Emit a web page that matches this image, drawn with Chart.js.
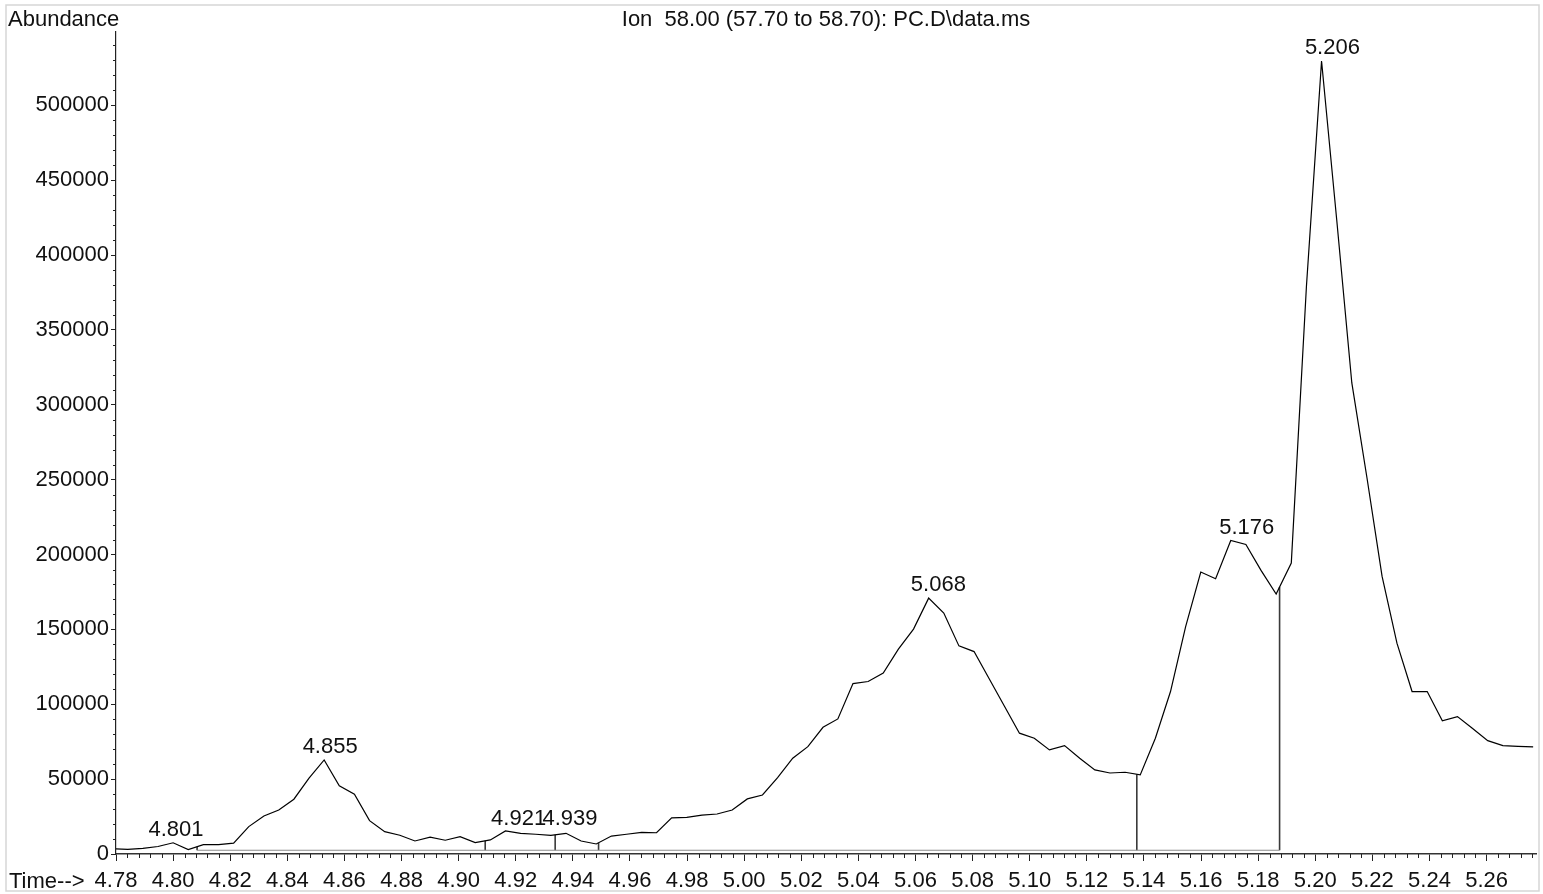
<!DOCTYPE html>
<html>
<head>
<meta charset="utf-8">
<script src="https://cdn.jsdelivr.net/npm/chart.js@4.4.1/dist/chart.umd.min.js"></script>
<style>
html, body { margin: 0; padding: 0; background: #fff; }
canvas { display: block; }
</style>
</head>
<body>
<canvas id="tic" width="1543" height="894"></canvas>
<script>
// retention time (min) of each scan
const times = [
    4.7788, 4.7841, 4.7894, 4.7947, 4.8000, 4.8053, 4.8106, 4.8159, 4.8212, 4.8265,
    4.8318, 4.8370, 4.8423, 4.8476, 4.8529, 4.8582, 4.8635, 4.8688, 4.8741, 4.8794,
    4.8847, 4.8900, 4.8953, 4.9005, 4.9058, 4.9111, 4.9164, 4.9217, 4.9270, 4.9323,
    4.9376, 4.9429, 4.9482, 4.9535, 4.9588, 4.9641, 4.9693, 4.9746, 4.9799, 4.9852,
    4.9905, 4.9958, 5.0011, 5.0064, 5.0117, 5.0170, 5.0223, 5.0276, 5.0328, 5.0381,
    5.0434, 5.0487, 5.0540, 5.0593, 5.0646, 5.0699, 5.0752, 5.0805, 5.0858, 5.0911,
    5.0964, 5.1016, 5.1069, 5.1122, 5.1175, 5.1228, 5.1281, 5.1334, 5.1387, 5.1440,
    5.1493, 5.1546, 5.1599, 5.1651, 5.1704, 5.1757, 5.1810, 5.1863, 5.1916, 5.1969,
    5.2022, 5.2075, 5.2128, 5.2181, 5.2234, 5.2286, 5.2339, 5.2392, 5.2445, 5.2498,
    5.2551, 5.2604, 5.2657, 5.2710, 5.2763
];

// ion 58 abundance at each scan
const abundance = [
    3500, 3100, 3800, 5000, 7500, 2900, 6200, 6300, 7200, 18300,
    25400, 29400, 36600, 50600, 62800, 45500, 39900, 22300, 14900, 12500,
    8700, 11200, 9200, 11600, 7600, 9400, 15400, 13800, 13200, 12400,
    13800, 8700, 6700, 12000, 13200, 14500, 14200, 24100, 24400, 25900,
    26700, 29400, 36800, 39400, 51000, 64000, 71700, 84600, 90200, 113800,
    115200, 120800, 136800, 150200, 170900, 160900, 139000, 135200, 117000, 98900,
    80700, 77300, 69500, 72400, 64000, 56200, 54100, 54600, 52800, 77300,
    108500, 151900, 188300, 183800, 209400, 206700, 189400, 173600, 194300, 379000,
    529600, 423800, 314600, 251300, 185400, 140800, 108500, 108500, 88900, 91800,
    83800, 75700, 72400, 71900, 71500
];

// integrated peaks: label and apex height
const peakTimes = [4.801, 4.855, 4.921, 4.939, 5.068, 5.176, 5.206];
const peakTops = [7500, 62800, 14500, 14500, 170900, 209400, 529600];

// integration baseline and peak boundaries
const boundaryTimes = [4.8084, 4.9093, 4.9338, 4.9490, 5.1375, 5.1875];
const baselineLevel = 2500;

const xTicks = [4.78, 4.80, 4.82, 4.84, 4.86, 4.88, 4.90, 4.92, 4.94, 4.96, 4.98, 5.00,
    5.02, 5.04, 5.06, 5.08, 5.10, 5.12, 5.14, 5.16, 5.18, 5.20, 5.22, 5.24, 5.26];
const yTicks = [0, 50000, 100000, 150000, 200000, 250000, 300000, 350000, 400000, 450000, 500000];
const xMin = 4.78, xMax = 5.2773;
const yMax = 549000;
const xMinorStep = 0.004, yMinorStep = 10000;

const FONT = "'Liberation Sans', Arial, sans-serif";
const FSIZE = 22;

function curveAt(t) {
    for (let i = 1; i < times.length; i++) {
        if (t <= times[i]) {
            let f = (t - times[i - 1]) / (times[i] - times[i - 1]);
            return abundance[i - 1] + f * (abundance[i] - abundance[i - 1]);
        }
    }
    return abundance[abundance.length - 1];
}

const baselinePts = [
    { x: boundaryTimes[0], y: baselineLevel },
    { x: boundaryTimes[boundaryTimes.length - 1], y: baselineLevel }
];
const markerPts = [];
boundaryTimes.forEach(t => {
    markerPts.push({ x: t, y: baselineLevel });
    markerPts.push({ x: t, y: curveAt(t) });
    markerPts.push({ x: t, y: null });
});

const chromPlugin = {
    id: 'chromPlugin',
    beforeDraw(chart) {
        const ctx = chart.ctx;
        ctx.save();
        ctx.fillStyle = '#fff';
        ctx.fillRect(0, 0, chart.width, chart.height);
        ctx.strokeStyle = '#d6d6d6';
        ctx.lineWidth = 1.5;
        ctx.strokeRect(6, 5, 1533, 886);
        ctx.restore();
    },
    afterDatasetsDraw(chart) {
        const { ctx, scales: { x, y } } = chart;
        ctx.save();
        ctx.font = FSIZE + 'px ' + FONT;
        ctx.fillStyle = '#111';
        ctx.textAlign = 'center';
        ctx.textBaseline = 'middle';
        peakTimes.forEach((t, i) => {
            ctx.fillText(t.toFixed(3), x.getPixelForValue(t), y.getPixelForValue(peakTops[i]) - 13);
        });
        ctx.restore();
    },
    afterDraw(chart) {
        const { ctx, scales: { x, y }, chartArea } = chart;
        ctx.save();
        ctx.strokeStyle = '#222';
        ctx.lineWidth = 1;
        ctx.beginPath();
        xTicks.forEach(v => {
            for (let j = 1; j < 5; j++) {
                let m = v + j * xMinorStep;
                if (m > x.max) break;
                let px = Math.round(x.getPixelForValue(m)) + 0.5;
                ctx.moveTo(px, chartArea.bottom);
                ctx.lineTo(px, chartArea.bottom + 4);
            }
        });
        for (let v = yMinorStep; v < y.max; v += yMinorStep) {
            if (v % 50000 === 0) continue;
            let py = Math.round(y.getPixelForValue(v)) + 0.5;
            ctx.moveTo(chartArea.left, py);
            ctx.lineTo(chartArea.left - 3, py);
        }
        ctx.stroke();

        ctx.font = FSIZE + 'px ' + FONT;
        ctx.fillStyle = '#111';
        ctx.textBaseline = 'alphabetic';
        ctx.textAlign = 'left';
        ctx.fillText('Abundance', 8, 26);
        ctx.fillText('Time-->', 9, 888);
        ctx.textAlign = 'center';
        ctx.fillText('Ion  58.00 (57.70 to 58.70): PC.D\\data.ms', (chartArea.left + chartArea.right) / 2, 26);
        ctx.restore();
    }
};

new Chart(document.getElementById('tic'), {
    type: 'line',
    data: {
        datasets: [
            {
                data: times.map((t, i) => ({ x: t, y: abundance[i] })),
                borderColor: '#000',
                borderWidth: 1.2,
                pointRadius: 0,
                tension: 0
            },
            {
                data: baselinePts,
                borderColor: '#8c8c8c',
                borderWidth: 1.2,
                pointRadius: 0
            },
            {
                data: markerPts,
                borderColor: '#3a3a3a',
                borderWidth: 1.6,
                pointRadius: 0,
                spanGaps: false
            }
        ]
    },
    options: {
        responsive: false,
        animation: false,
        events: [],
        layout: { padding: { left: 0, right: 7, top: 32, bottom: 0 } },
        plugins: {
            legend: { display: false },
            tooltip: { enabled: false }
        },
        scales: {
            x: {
                type: 'linear',
                min: xMin,
                max: xMax,
                afterBuildTicks: s => { s.ticks = xTicks.map(v => ({ value: v })); },
                afterFit: s => { s.height = 40; },
                grid: { drawOnChartArea: false, tickLength: 7, tickColor: '#222', color: '#222' },
                border: { color: '#333', width: 1.5 },
                ticks: {
                    font: { family: FONT, size: FSIZE },
                    color: '#111',
                    padding: 7,
                    maxRotation: 0,
                    autoSkip: false,
                    callback: v => v.toFixed(2)
                }
            },
            y: {
                min: 0,
                max: yMax,
                afterBuildTicks: s => { s.ticks = yTicks.map(v => ({ value: v })); },
                afterFit: s => { s.width = 116; },
                grid: { drawOnChartArea: false, tickLength: 5, tickColor: '#222', color: '#222' },
                border: { color: '#222', width: 1.2 },
                ticks: {
                    font: { family: FONT, size: FSIZE },
                    color: '#111',
                    padding: 2,
                    callback: v => String(v)
                }
            }
        }
    },
    plugins: [chromPlugin]
});
</script>
</body>
</html>
